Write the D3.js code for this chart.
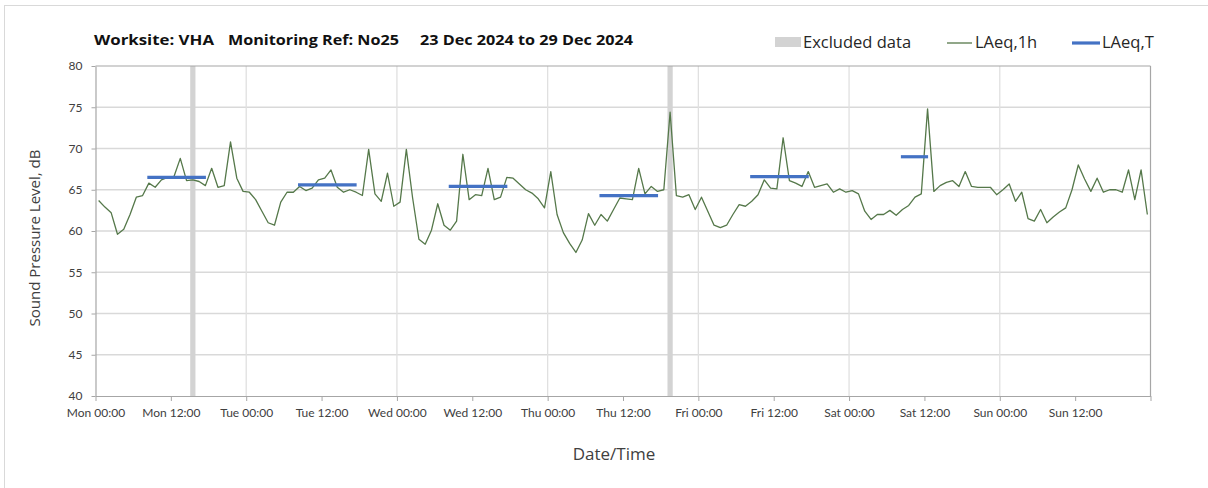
<!DOCTYPE html>
<html><head><meta charset="utf-8">
<script src="https://cdn.jsdelivr.net/npm/d3@7"></script>
<style>body{margin:0;background:#fff;} svg{display:block;font-family:Lato,"Open Sans",sans-serif;}</style>
</head><body><svg id="c" width="1208" height="488"></svg>
<script>
// ---------- data ----------
const startTime = "2024-12-23T00:00";
const endTime = "2024-12-30T00:00";
const firstReading = "2024-12-23T00:30";
const laeq1h = [
 63.7,62.9,62.2,59.6,60.2,62.0,64.1,64.3,65.8,65.3,66.2,66.5,66.6,68.8,66.1,66.2,66.0,65.5,67.6,65.3,65.5,70.8,66.4,64.8,
 64.7,63.8,62.4,61.0,60.7,63.5,64.7,64.7,65.4,64.9,65.2,66.2,66.4,67.4,65.3,64.7,65.0,64.7,64.3,69.9,64.5,63.6,67.0,63.0,
 63.5,69.9,64.0,59.0,58.4,60.1,63.3,60.7,60.1,61.2,69.3,63.8,64.4,64.3,67.6,63.8,64.1,66.5,66.4,65.7,65.0,64.6,63.9,62.8,
 67.2,62.0,59.8,58.5,57.4,58.9,62.1,60.7,62.0,61.2,62.6,64.0,63.9,63.8,67.6,64.5,65.4,64.8,65.0,74.4,64.3,64.1,64.4,62.6,
 64.1,62.4,60.7,60.4,60.7,62.0,63.2,63.0,63.6,64.4,66.2,65.2,65.1,71.3,66.1,65.8,65.4,67.2,65.3,65.5,65.7,64.7,65.1,64.7,
 64.9,64.5,62.4,61.4,62.0,62.0,62.5,61.9,62.6,63.1,64.1,64.5,74.8,64.8,65.5,65.9,66.1,65.4,67.2,65.4,65.3,65.3,65.3,64.4,
 65.0,65.7,63.6,64.7,61.5,61.2,62.6,61.0,61.7,62.3,62.8,65.0,68.0,66.3,64.8,66.4,64.7,65.0,65.0,64.7,67.4,63.8,67.4,62.0
];
const periodDays = ["2024-12-23","2024-12-24","2024-12-25","2024-12-26","2024-12-27","2024-12-28"];
const periodStart = ["08:15","08:15","08:15","08:15","08:15","08:15"];
const periodEnd = ["17:35","17:35","17:35","17:35","17:35","12:35"];
const laeqT = [66.5,65.6,65.4,64.3,66.6,69.0];
const excludedStart = ["2024-12-23T15:05","2024-12-26T19:05"];
const excludedEnd = ["2024-12-23T15:55","2024-12-26T19:55"];
const yTicks = [40,45,50,55,60,65,70,75,80];
const xTickLabels = ["Mon 00:00","Mon 12:00","Tue 00:00","Tue 12:00","Wed 00:00","Wed 12:00","Thu 00:00","Thu 12:00","Fri 00:00","Fri 12:00","Sat 00:00","Sat 12:00","Sun 00:00","Sun 12:00",""];
const titleParts = ["Worksite: VHA","Monitoring Ref: No25","23 Dec 2024 to 29 Dec 2024"];
const legendLabels = ["Excluded data","LAeq,1h","LAeq,T"];

// ---------- chart ----------
const svg = d3.select("#c");
const L=95.5, R=1150.5, T=66, B=396;
const x = d3.scaleTime().domain([new Date(startTime), new Date(endTime)]).range([L,R]);
const y = d3.scaleLinear().domain([40,80]).range([B,T]);
const HOUR = 3600*1000;
const t0 = new Date(firstReading).getTime();
const series = laeq1h.map((v,i)=>({t:new Date(t0+i*HOUR), v}));

// outer border
svg.append("rect").attr("x",4.5).attr("y",5.5).attr("width",1220).attr("height",500)
  .attr("fill","none").attr("stroke","#d9d9d9");

// gridlines
svg.append("g").selectAll("line").data(yTicks.filter(d=>d>40&&d<80)).join("line")
  .attr("x1",L).attr("x2",R).attr("y1",d=>y(d)).attr("y2",d=>y(d))
  .attr("stroke","#d9d9d9").attr("stroke-width",1.3);
const dayTicks = d3.range(1,7).map(k=>new Date(new Date(startTime).getTime()+k*24*HOUR));
svg.append("g").selectAll("line").data(dayTicks).join("line")
  .attr("x1",d=>x(d)).attr("x2",d=>x(d)).attr("y1",T).attr("y2",B)
  .attr("stroke","#e0e0e0").attr("stroke-width",1.3);

// excluded
svg.append("g").selectAll("rect").data(excludedStart.map((s,i)=>[new Date(s),new Date(excludedEnd[i])])).join("rect")
  .attr("x",d=>x(d[0])).attr("width",d=>x(d[1])-x(d[0])).attr("y",T).attr("height",B-T)
  .attr("fill","#d3d3d3");

// border top/right
svg.append("line").attr("x1",L).attr("x2",R).attr("y1",T).attr("y2",T).attr("stroke","#a6a6a6").attr("stroke-width",1.2);
svg.append("line").attr("x1",R).attr("x2",R).attr("y1",T).attr("y2",B).attr("stroke","#a6a6a6").attr("stroke-width",1.2);

// axes
const xTickVals = d3.range(0,15).map(k=>new Date(new Date(startTime).getTime()+k*12*HOUR));
const xa = svg.append("g").attr("transform",`translate(0,${B})`)
  .call(d3.axisBottom(x).tickValues(xTickVals).tickFormat((d,i)=>xTickLabels[i]).tickSize(5).tickPadding(7).tickSizeOuter(0));
xa.select(".domain").attr("stroke","#a6a6a6").attr("stroke-width",1.2);
xa.selectAll(".tick line").attr("stroke","#a6a6a6");
xa.selectAll("text").attr("font-size",12).attr("fill","#404040").attr("font-family","Lato, sans-serif");

const ya = svg.append("g").attr("transform",`translate(${L},0)`)
  .call(d3.axisLeft(y).tickValues(yTicks).tickSize(4).tickPadding(9).tickSizeOuter(0));
ya.select(".domain").attr("stroke","#a6a6a6").attr("stroke-width",1.2);
ya.selectAll(".tick line").attr("stroke","#a6a6a6");
ya.selectAll("text").attr("font-size",12).attr("fill","#404040").attr("font-family","Lato, sans-serif");

// LAeq,1h line
svg.append("path").datum(series)
  .attr("d",d3.line().x(d=>x(d.t)).y(d=>y(d.v)))
  .attr("fill","none").attr("stroke","#55784a").attr("stroke-width",1.3).attr("stroke-linejoin","round");

// LAeq,T segments
svg.append("g").selectAll("line").data(laeqT.map((v,i)=>({a:new Date(periodDays[i]+"T"+periodStart[i]), b:new Date(periodDays[i]+"T"+periodEnd[i]), v}))).join("line")
  .attr("x1",d=>x(d.a)).attr("x2",d=>x(d.b)).attr("y1",d=>y(d.v)).attr("y2",d=>y(d.v))
  .attr("stroke","#4472c4").attr("stroke-width",3.2);

// title
const titleX=[94,228,420];
const titleW=[120,171,213];
svg.append("g").selectAll("text").data(titleParts).join("text")
  .attr("x",(d,i)=>titleX[i]).attr("y",45).attr("font-size",15).attr("font-weight","bold")
  .attr("font-family","'Open Sans', sans-serif").attr("fill","#111")
  .attr("textLength",(d,i)=>titleW[i]).attr("lengthAdjust","spacingAndGlyphs").text(d=>d);

// legend
const lf = "'Open Sans', sans-serif";
svg.append("rect").attr("x",775).attr("y",37).attr("width",26).attr("height",10).attr("fill","#d3d3d3");
svg.append("text").attr("x",803).attr("y",48).attr("font-size",16.5).attr("font-family",lf).attr("fill","#262626").text(legendLabels[0]);
svg.append("line").attr("x1",947).attr("x2",972).attr("y1",43).attr("y2",43).attr("stroke","#55784a").attr("stroke-width",1.3);
svg.append("text").attr("x",975).attr("y",48).attr("font-size",16.5).attr("font-family",lf).attr("fill","#262626").text(legendLabels[1]);
svg.append("line").attr("x1",1072).attr("x2",1100).attr("y1",43).attr("y2",43).attr("stroke","#4472c4").attr("stroke-width",3.2);
svg.append("text").attr("x",1102).attr("y",48).attr("font-size",16.5).attr("font-family",lf).attr("fill","#262626").text(legendLabels[2]);

// axis titles
svg.append("text").attr("transform","translate(40,238) rotate(-90)").attr("text-anchor","middle")
  .attr("font-size",15).attr("font-family",lf).attr("fill","#404040").text("Sound Pressure Level, dB");
svg.append("text").attr("x",614).attr("y",460).attr("text-anchor","middle")
  .attr("font-size",17).attr("font-family",lf).attr("fill","#404040").text("Date/Time");
</script></body></html>
